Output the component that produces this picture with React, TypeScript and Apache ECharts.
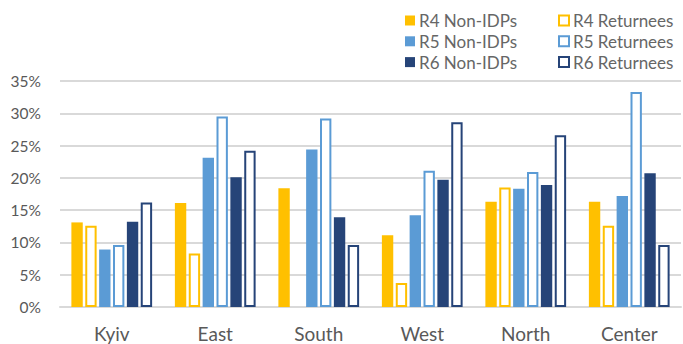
import React, { useEffect, useRef } from "react";
import * as echarts from "echarts";

const categories = ["Kyiv", "East", "South", "West", "North", "Center"];
const r4NonIDPs = [13.1, 16.1, 18.4, 11.1, 16.3, 16.3];
const r4Returnees = [12.6, 8.3, 0, 3.7, 18.5, 12.6];
const r5NonIDPs = [8.9, 23.1, 24.4, 14.2, 18.3, 17.2];
const r5Returnees = [9.6, 29.5, 29.2, 21.1, 20.9, 33.3];
const r6NonIDPs = [13.2, 20.1, 13.9, 19.7, 18.9, 20.7];
const r6Returnees = [16.2, 24.2, 9.6, 28.6, 26.6, 9.6];

const YELLOW = "#FFC000";
const LIGHT = "#5B9BD5";
const DARK = "#264478";
const FONT = "Lato, 'Open Sans', sans-serif";
const TEXT = "#595959";

export default function App() {
  const ref = useRef<HTMLDivElement>(null);
  useEffect(() => {
    if (!ref.current) return;
    const chart = echarts.init(ref.current, undefined, { renderer: "svg" });
    const solid = (name: string, data: number[], color: string) => ({
      name,
      type: "bar",
      data: data.map((v) => (v === 0 ? null : v)),
      barGap: "22%",
      barCategoryGap: "22%",
      itemStyle: { color },
    });
    const hollow = (name: string, data: number[], color: string) => ({
      name,
      type: "bar",
      data: data.map((v) => (v === 0 ? null : v)),
      barGap: "22%",
      barCategoryGap: "22%",
      itemStyle: { color: "#ffffff", borderColor: color, borderWidth: 2 },
    });
    const legendCommon = {
      orient: "vertical" as const,
      top: 12,
      itemWidth: 10,
      itemHeight: 10,
      itemGap: 3.8,
      padding: 0,
      icon: "rect",
      textStyle: {
        fontFamily: FONT,
        fontSize: 17,
        lineHeight: 17,
        color: "#666666",
        padding: [0, 0, 0, -1],
      },
    };
    chart.setOption({
      animation: false,
      backgroundColor: "#ffffff",
      legend: [
        { ...legendCommon, left: 405, data: ["R4 Non-IDPs", "R5 Non-IDPs", "R6 Non-IDPs"] },
        { ...legendCommon, left: 558, data: ["R4 Returnees", "R5 Returnees", "R6 Returnees"] },
      ],
      grid: { left: 60, right: 2, top: 81, bottom: 37, containLabel: false },
      xAxis: {
        type: "category",
        data: categories,
        axisTick: { show: false },
        axisLine: { lineStyle: { color: "#d9d9d9", width: 2 } },
        axisLabel: { fontFamily: FONT, fontSize: 19, color: TEXT, margin: 17 },
      },
      yAxis: {
        type: "value",
        min: 0,
        max: 35,
        interval: 5,
        axisLabel: { formatter: "{value}%", fontFamily: FONT, fontSize: 15.5, color: TEXT, margin: 19 },
        axisLine: { show: false },
        axisTick: { show: false },
        splitLine: { lineStyle: { color: "#d9d9d9", width: 2 } },
      },
      series: [
        solid("R4 Non-IDPs", r4NonIDPs, YELLOW),
        hollow("R4 Returnees", r4Returnees, YELLOW),
        solid("R5 Non-IDPs", r5NonIDPs, LIGHT),
        hollow("R5 Returnees", r5Returnees, LIGHT),
        solid("R6 Non-IDPs", r6NonIDPs, DARK),
        hollow("R6 Returnees", r6Returnees, DARK),
      ],
    });
    return () => chart.dispose();
  }, []);
  return <div ref={ref} style={{ width: 683, height: 344, position: "absolute", left: 0, top: 0 }} />;
}
